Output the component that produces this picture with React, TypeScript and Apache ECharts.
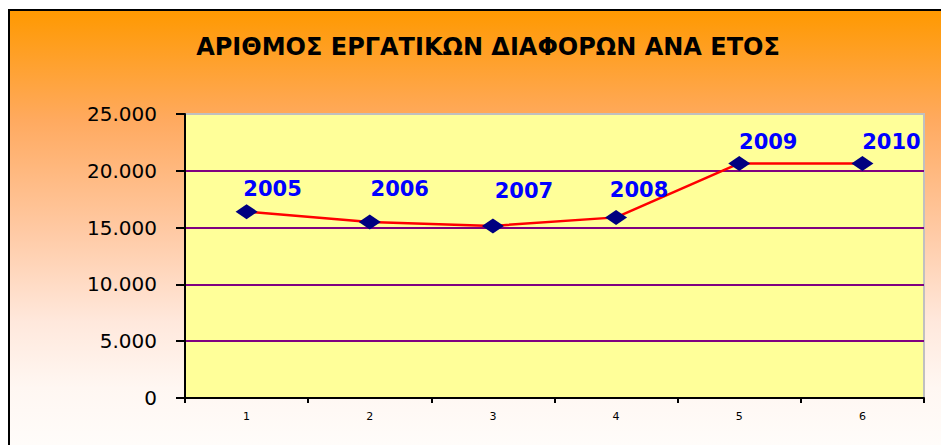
import React, { useEffect, useRef } from "react";
import * as echarts from "echarts";

const titleText = "ΑΡΙΘΜΟΣ ΕΡΓΑΤΙΚΩΝ ΔΙΑΦΟΡΩΝ ΑΝΑ ΕΤΟΣ";
const categories = ["1", "2", "3", "4", "5", "6"];
const years = ["2005", "2006", "2007", "2008", "2009", "2010"];
const workers = [16400, 15500, 15150, 15900, 20650, 20650];
const yTicks = { min: 0, max: 25000, interval: 5000 };

// label placement tweaks (pixels), as placed in the original chart
const labelShiftX = [26, 30, 31, 23, 29, 29];
const labelShiftY = [0, -10, -12, -4, 2, 2];

function fmtThousands(v: number): string {
  return String(v).replace(/\B(?=(\d{3})+(?!\d))/g, ".");
}

export default function App() {
  const ref = useRef<HTMLDivElement>(null);
  useEffect(() => {
    if (!ref.current) return;
    const chart = echarts.init(ref.current, undefined, { renderer: "svg" });
    const seriesData = workers.map((v, i) => ({
      value: v,
      label: { offset: [labelShiftX[i], labelShiftY[i]] },
    }));
    chart.setOption({
      animation: false,
      backgroundColor: "#FFFFFF",
      graphic: [
        {
          type: "rect",
          z: -100,
          shape: { x: 9, y: 10, width: 940, height: 445 },
          style: {
            fill: new echarts.graphic.LinearGradient(0, 0, 0, 1, [
              { offset: 0, color: "#FF9900" },
              { offset: 0.25, color: "#FFAA60" },
              { offset: 0.5, color: "#FFCAA5" },
              { offset: 0.7, color: "#FFE8DC" },
              { offset: 0.85, color: "#FFF7F2" },
              { offset: 1, color: "#FFFDFB" },
            ]),
            stroke: "#000000",
            lineWidth: 2,
          },
        },
      ],
      title: {
        text: titleText,
        left: 483,
        top: 30,
        textAlign: "center",
        textStyle: {
          fontFamily: "DejaVu Sans",
          fontWeight: "bold",
          fontSize: 24,
          color: "#000000",
        },
      },
      grid: {
        left: 185,
        top: 114,
        right: 17,
        bottom: 47,
        show: true,
        backgroundColor: "#FFFF99",
        borderColor: "#C0C0C0",
        borderWidth: 2,
      },
      xAxis: {
        type: "category",
        data: categories,
        boundaryGap: true,
        axisLine: { show: true, lineStyle: { color: "#000000", width: 2 } },
        axisTick: {
          show: true,
          inside: false,
          length: 5,
          lineStyle: { color: "#000000", width: 2 },
        },
        axisLabel: {
          margin: 13,
          fontFamily: "DejaVu Sans",
          fontSize: 11,
          color: "#000000",
        },
        splitLine: { show: false },
      },
      yAxis: {
        type: "value",
        min: yTicks.min,
        max: yTicks.max,
        interval: yTicks.interval,
        axisLine: { show: true, lineStyle: { color: "#000000", width: 2 } },
        axisTick: {
          show: true,
          inside: false,
          length: 9,
          lineStyle: { color: "#000000", width: 2 },
        },
        axisLabel: {
          margin: 28,
          fontFamily: "DejaVu Sans",
          fontSize: 20,
          color: "#000000",
          formatter: (v: number) => fmtThousands(v),
        },
        splitLine: {
          show: true,
          lineStyle: {
            color: ["#800080", "#800080", "#800080", "#800080", "#800080", "#C0C0C0"],
            width: 2,
          },
        },
      },
      series: [
        {
          type: "line",
          data: seriesData,
          symbol: "diamond",
          symbolSize: [22, 15],
          itemStyle: { color: "#000080" },
          lineStyle: { color: "#FF0000", width: 2.5 },
          label: {
            show: true,
            position: "top",
            distance: 5,
            formatter: (p: any) => years[p.dataIndex],
            fontFamily: "DejaVu Sans",
            fontWeight: "bold",
            fontSize: 21,
            color: "#0000FF",
          },
        },
      ],
    });
    return () => chart.dispose();
  }, []);
  return (
    <div
      ref={ref}
      style={{ position: "fixed", left: 0, top: 0, width: 941, height: 445 }}
    />
  );
}
